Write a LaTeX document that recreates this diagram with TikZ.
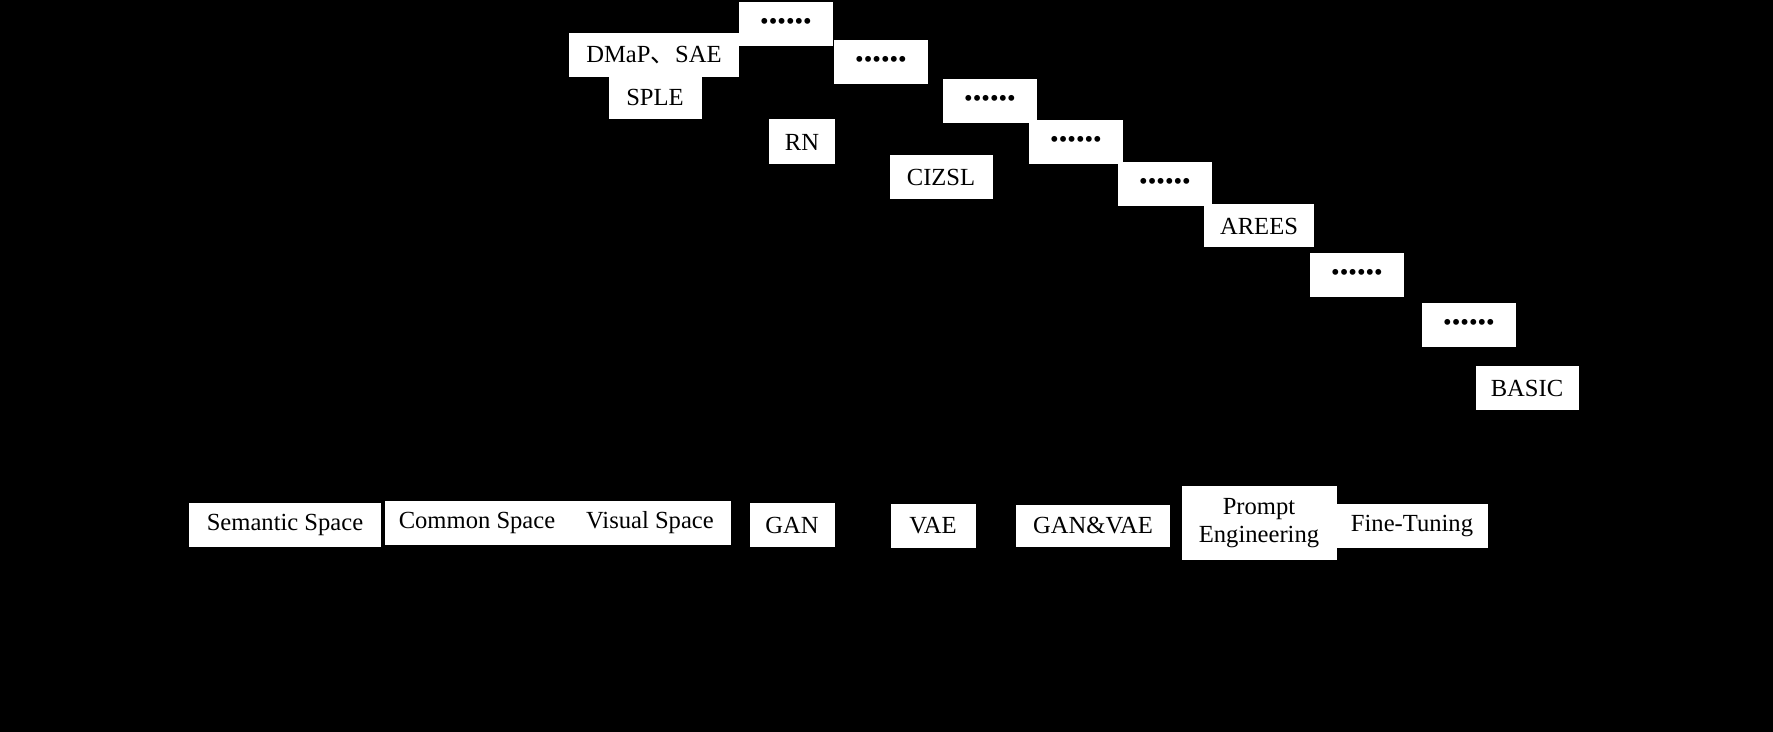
\documentclass[tikz,border=0pt]{standalone}
\usepackage{fontspec}
\setmainfont{Liberation Serif}
\newfontfamily\cjk{Noto Sans CJK SC}

\tikzset{
  box/.style={fill=white, inner sep=0pt, minimum height=0.88cm, align=center, font=\fontsize{14}{16}\selectfont},
  dotbox/.style={box, minimum width=1.87cm}
}
\newcommand{\sixdots}{\textbullet\textbullet\textbullet\textbullet\textbullet\textbullet}

\begin{document}
\begin{tikzpicture}[x=0.02cm, y=-0.02cm]
\fill[black] (0,0) rectangle (1773,732);
\useasboundingbox (0,0) rectangle (1773,732);

        \node[box, minimum width=3.42cm] (dmap) at (654,55) {DMaP{\cjk 、}SAE};
\node[box, minimum width=1.86cm] (sple) at (655,97) {SPLE};
\node[dotbox] (dotsa) at (786,24) {\sixdots};
\node[dotbox] (dotsb) at (881,62) {\sixdots};
\node[box, minimum width=1.32cm, minimum height=0.9cm] (rn) at (802,142) {RN};
\node[dotbox] (dotsc) at (990,101) {\sixdots};
\node[box, minimum width=2.06cm] (cizsl) at (941,177) {CIZSL};
\node[dotbox] (dotsd) at (1076,142) {\sixdots};
\node[dotbox] (dotse) at (1165,184) {\sixdots};
\node[box, minimum width=2.2cm, minimum height=0.86cm] (arees) at (1259,226) {AREES};
\node[dotbox] (dotsf) at (1357,275) {\sixdots};
\node[dotbox] (dotsg) at (1469,325) {\sixdots};
\node[box, minimum width=2.06cm] (basic) at (1527,388) {BASIC};

            %bottom row
\node[box, minimum width=3.84cm, minimum height=0.9cm] (sem) at (285,525) {Semantic Space};
\node[box, minimum width=3.68cm] (com) at (477,523) {Common Space};
\node[box, minimum width=3.24cm, minimum height=0.9cm] (vis) at (650,523) {Visual Space};
\node[box, minimum width=1.7cm] (gan) at (792,525) {GAN};
\node[box, minimum width=1.7cm] (vae) at (933,526) {VAE};
\node[box, minimum width=3.08cm, minimum height=0.86cm] (ganvae) at (1093,526) {GAN\&VAE};
\node[box, minimum width=3.1cm, minimum height=1.48cm] (prompt) at (1259,523) {Prompt\\Engineering};
\node[box, minimum width=3.04cm] (fine) at (1412,526) {Fine-Tuning};
\end{tikzpicture}
\end{document}
